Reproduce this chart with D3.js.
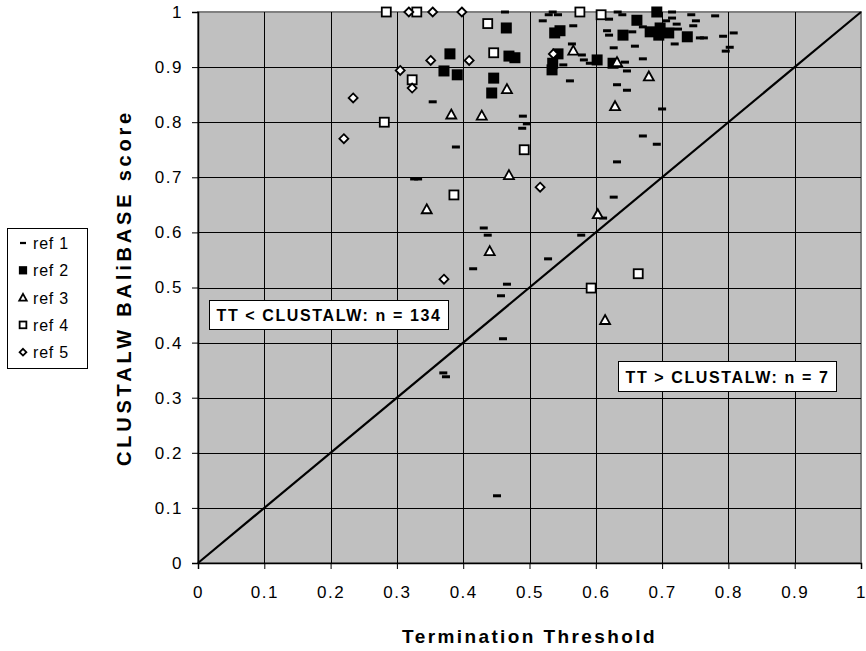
<!DOCTYPE html>
<html>
<head>
<meta charset="utf-8">
<script src="https://cdn.jsdelivr.net/npm/d3@7"></script>
<style>
  body { margin: 0; background: #fff; }
  text { font-family: "Liberation Sans", Arial, sans-serif; }
</style>
</head>
<body>
<svg id="chart" width="866" height="651"></svg>
<script>
// data: [threshold, score]
var ref1 = [
  [0.326,0.697],[0.332,0.697],[0.463,1.0],[0.354,0.837],[0.490,0.811],[0.496,0.797],
  [0.489,0.789],[0.389,0.755],[0.520,0.984],[0.529,0.995],[0.535,1.0],[0.543,0.995],
  [0.566,0.975],[0.564,0.942],[0.579,0.922],[0.582,0.913],[0.591,0.907],[0.551,0.904],
  [0.561,0.875],[0.620,0.987],[0.617,0.966],[0.620,0.958],[0.627,0.935],[0.633,1.0],
  [0.640,0.995],[0.644,0.909],[0.647,0.893],[0.632,0.868],[0.647,0.858],[0.632,0.728],
  [0.627,0.664],[0.715,1.0],[0.715,0.989],[0.706,0.984],[0.722,0.978],[0.744,0.995],
  [0.751,0.984],[0.747,0.975],[0.671,0.973],[0.655,0.964],[0.719,0.942],[0.659,0.938],
  [0.757,0.953],[0.763,0.953],[0.780,0.993],[0.792,0.956],[0.808,0.962],[0.802,0.936],
  [0.796,0.929],[0.671,0.915],[0.700,0.824],[0.671,0.775],[0.692,0.760],[0.611,0.626],
  [0.431,0.608],[0.437,0.595],[0.578,0.595],[0.528,0.552],[0.415,0.534],[0.466,0.506],
  [0.457,0.485],[0.460,0.407],[0.370,0.345],[0.374,0.338],[0.451,0.122],[0.724,0.969]
];
var ref2 = [
  [0.465,0.971],[0.380,0.924],[0.371,0.893],[0.391,0.886],[0.469,0.920],[0.478,0.917],
  [0.446,0.880],[0.443,0.853],[0.538,0.962],[0.546,0.966],[0.543,0.924],[0.535,0.907],
  [0.534,0.895],[0.602,0.913],[0.626,0.907],[0.641,0.958],[0.662,0.985],[0.692,1.0],
  [0.682,0.964],[0.697,0.971],[0.695,0.958],[0.710,0.962],[0.738,0.955]
];
var ref3 = [
  [0.566,0.930],[0.632,0.909],[0.466,0.860],[0.382,0.814],[0.428,0.812],[0.629,0.829],
  [0.469,0.704],[0.680,0.883],[0.345,0.642],[0.603,0.633],[0.440,0.566],[0.614,0.441]
];
var ref4 = [
  [0.284,1.0],[0.330,1.0],[0.323,0.877],[0.281,0.800],[0.437,0.979],[0.446,0.926],
  [0.576,1.0],[0.608,0.995],[0.492,0.750],[0.386,0.668],[0.593,0.499],[0.664,0.525]
];
var ref5 = [
  [0.318,1.0],[0.354,1.0],[0.398,1.0],[0.305,0.894],[0.323,0.862],[0.234,0.844],
  [0.220,0.770],[0.351,0.912],[0.409,0.912],[0.536,0.924],[0.516,0.682],[0.371,0.515]
];
var seriesNames = ["ref 1", "ref 2", "ref 3", "ref 4", "ref 5"];
var tickValues = [0, 0.1, 0.2, 0.3, 0.4, 0.5, 0.6, 0.7, 0.8, 0.9, 1];
var noteLow = "TT < CLUSTALW: n = 134";
var noteHigh = "TT > CLUSTALW: n = 7";

var svg = d3.select("#chart");
var plot = { left: 198, top: 12, right: 861, bottom: 563 };

var x = d3.scaleLinear().domain([0, 1]).range([plot.left, plot.right]);
var y = d3.scaleLinear().domain([0, 1]).range([plot.bottom, plot.top]);

// plot background
svg.append("rect")
  .attr("x", plot.left).attr("y", plot.top)
  .attr("width", plot.right - plot.left).attr("height", plot.bottom - plot.top)
  .attr("fill", "#c0c0c0")
  .attr("stroke", "#808080").attr("stroke-width", 2);

// gridlines
var grid = svg.append("g");
grid.selectAll(".gx").data(tickValues.slice(1, -1)).enter().append("line")
  .attr("x1", d => Math.round(x(d)) + 0.5).attr("x2", d => Math.round(x(d)) + 0.5)
  .attr("y1", plot.top).attr("y2", plot.bottom)
  .attr("stroke", "#000").attr("stroke-width", 1);
grid.selectAll(".gy").data(tickValues.slice(1, -1)).enter().append("line")
  .attr("y1", d => Math.round(y(d)) + 0.5).attr("y2", d => Math.round(y(d)) + 0.5)
  .attr("x1", plot.left).attr("x2", plot.right)
  .attr("stroke", "#000").attr("stroke-width", 1);

// axes
var xAxis = d3.axisBottom(x).tickValues(tickValues).tickSize(6).tickPadding(17)
  .tickFormat(d3.format("~g"));
var yAxis = d3.axisLeft(y).tickValues(tickValues).tickSize(6).tickPadding(9)
  .tickFormat(d3.format("~g"));

var gx = svg.append("g").attr("transform", `translate(0,${plot.bottom})`).call(xAxis);
var gy = svg.append("g").attr("transform", `translate(${plot.left},0)`).call(yAxis);
[gx, gy].forEach(function(g) {
  g.select(".domain").attr("stroke", "#000").attr("stroke-width", 1.5);
  g.selectAll(".tick line").attr("stroke", "#000");
  g.selectAll(".tick text").attr("font-size", 17).attr("fill", "#000")
    .attr("letter-spacing", 1.5)
    .attr("font-family", "Liberation Sans, Arial, sans-serif");
});

// diagonal y = x
svg.append("line")
  .attr("x1", x(0)).attr("y1", y(0)).attr("x2", x(1)).attr("y2", y(1))
  .attr("stroke", "#000").attr("stroke-width", 2.2);

// markers
function drawMarker(g, kind, s) {
  if (kind === 0) {
    g.append("rect").attr("x", -4 * s).attr("y", -1.5 * s).attr("width", 8 * s).attr("height", 3 * s)
      .attr("fill", "#000");
  } else if (kind === 1) {
    g.append("rect").attr("x", -5.5 * s).attr("y", -5.5 * s).attr("width", 11 * s).attr("height", 11 * s)
      .attr("fill", "#000");
  } else if (kind === 2) {
    g.append("path").attr("d", `M0,${-5 * s}L${5 * s},${4 * s}L${-5 * s},${4 * s}Z`)
      .attr("fill", "#fff").attr("stroke", "#000").attr("stroke-width", 1.8);
  } else if (kind === 3) {
    g.append("rect").attr("x", -4.5 * s).attr("y", -4.5 * s).attr("width", 9 * s).attr("height", 9 * s)
      .attr("fill", "#fff").attr("stroke", "#000").attr("stroke-width", 1.8);
  } else {
    g.append("path").attr("d", `M0,${-4.5 * s}L${4.5 * s},0L0,${4.5 * s}L${-4.5 * s},0Z`)
      .attr("fill", "#fff").attr("stroke", "#000").attr("stroke-width", 1.8);
  }
}

var allSeries = [ref1, ref2, ref3, ref4, ref5];
allSeries.forEach(function(data, i) {
  svg.append("g").selectAll("g").data(data).enter().append("g")
    .attr("transform", d => `translate(${x(d[0])},${y(d[1])})`)
    .each(function() { drawMarker(d3.select(this), i, 1); });
});

// annotation boxes
function note(text, bx, by, bw, bh) {
  svg.append("rect").attr("x", bx).attr("y", by).attr("width", bw).attr("height", bh)
    .attr("fill", "#fff").attr("stroke", "#000").attr("stroke-width", 1);
  svg.append("text").attr("x", bx + bw / 2).attr("y", by + bh / 2 + 6)
    .attr("text-anchor", "middle").attr("font-size", 16).attr("font-weight", "bold")
    .attr("letter-spacing", 1.6)
    .text(text);
}
note(noteLow, 209.5, 300.5, 239, 29);
note(noteHigh, 618.5, 361.5, 218, 30);

// legend
var legend = svg.append("g");
legend.append("rect").attr("x", 7.5).attr("y", 228.5).attr("width", 80).attr("height", 140)
  .attr("fill", "#fff").attr("stroke", "#000").attr("stroke-width", 1);
seriesNames.forEach(function(name, i) {
  var ly = 243 + i * 27.3;
  var m = legend.append("g").attr("transform", `translate(23,${ly})`);
  drawMarker(m, i, 0.75);
  legend.append("text").attr("x", 33).attr("y", ly + 6).attr("font-size", 16)
    .attr("letter-spacing", 0.8).text(name);
});

// axis titles
svg.append("text").attr("x", (plot.left + plot.right) / 2).attr("y", 643)
  .attr("text-anchor", "middle").attr("font-size", 19).attr("font-weight", "bold")
  .attr("letter-spacing", 2.4)
  .text("Termination Threshold");
svg.append("text")
  .attr("transform", `translate(131,${(plot.top + plot.bottom) / 2}) rotate(-90)`)
  .attr("text-anchor", "middle").attr("font-size", 20).attr("font-weight", "bold")
  .attr("letter-spacing", 3.8)
  .text("CLUSTALW BAliBASE score");
</script>
</body>
</html>
